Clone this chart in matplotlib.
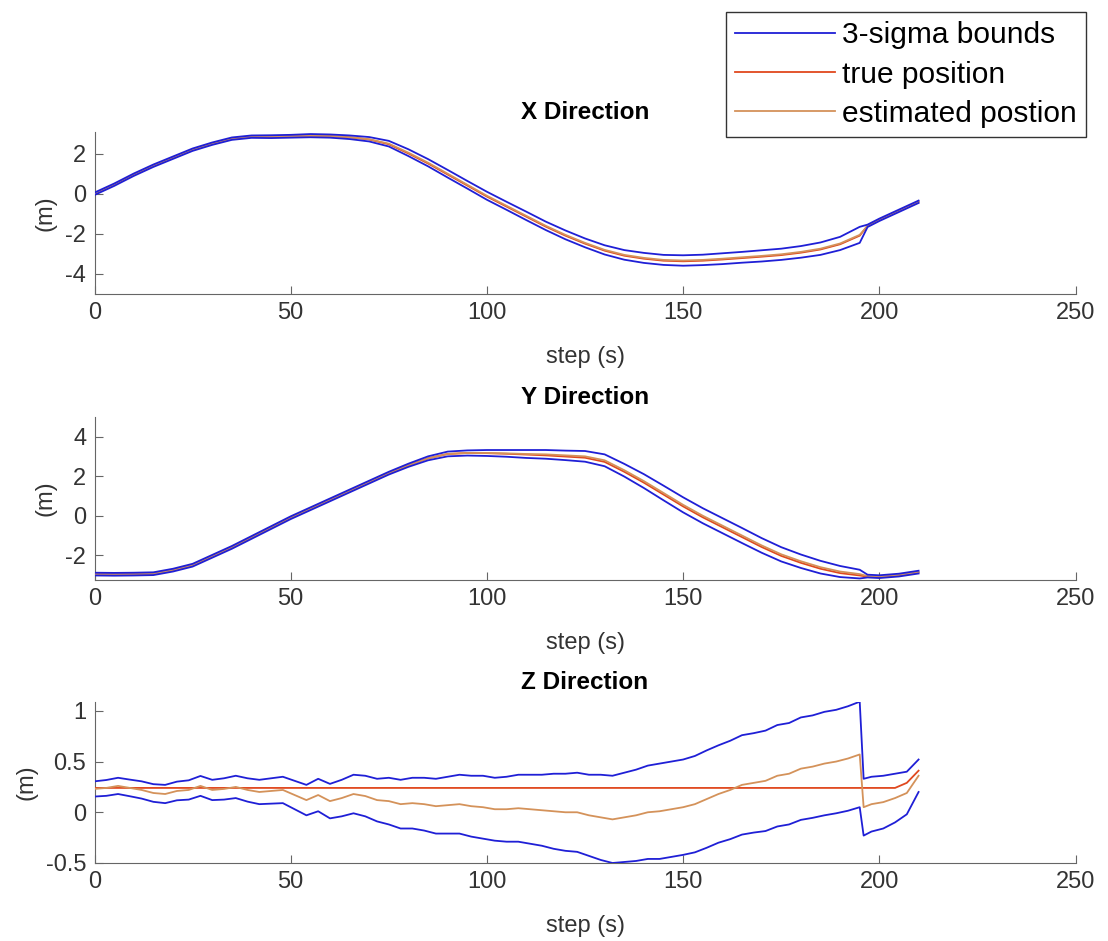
import numpy as np
import matplotlib
matplotlib.use('Agg')
import matplotlib.pyplot as plt

plt.rcParams['font.family'] = ['Liberation Sans', 'DejaVu Sans']
plt.rcParams['axes.unicode_minus'] = False

# ============ data ========================================
steps_xy = [0, 5, 10, 15, 20, 25, 30, 35, 40, 45, 50, 55, 60, 65, 70, 75, 80, 85, 90, 95,
            100, 105, 110, 115, 120, 125, 130, 135, 140, 145, 150, 155, 160, 165, 170, 175,
            180, 185, 190, 195, 197, 200, 205, 210]

est_x = [0.00, 0.45, 0.95, 1.40, 1.80, 2.20, 2.50, 2.75, 2.85, 2.85, 2.87, 2.90, 2.88, 2.82,
         2.72, 2.50, 2.05, 1.55, 1.00, 0.45, -0.10, -0.60, -1.10, -1.60, -2.05, -2.45, -2.80,
         -3.05, -3.20, -3.30, -3.33, -3.30, -3.24, -3.17, -3.10, -3.02, -2.90, -2.74, -2.48,
         -2.05, -1.60, -1.30, -0.85, -0.40]
true_x = [0.00, 0.45, 0.95, 1.40, 1.80, 2.20, 2.50, 2.75, 2.85, 2.85, 2.87, 2.90, 2.88, 2.82,
          2.71, 2.47, 2.01, 1.51, 0.96, 0.41, -0.14, -0.64, -1.14, -1.64, -2.09, -2.49, -2.84,
          -3.09, -3.24, -3.34, -3.37, -3.34, -3.28, -3.21, -3.14, -3.06, -2.94, -2.78, -2.52,
          -2.09, -1.60, -1.30, -0.85, -0.40]
sig_x = [0.06, 0.06, 0.06, 0.06, 0.06, 0.06, 0.06, 0.06, 0.06, 0.07, 0.07, 0.08, 0.08, 0.09,
         0.11, 0.14, 0.17, 0.18, 0.19, 0.19, 0.20, 0.20, 0.21, 0.21, 0.22, 0.22, 0.23, 0.24,
         0.25, 0.25, 0.26, 0.26, 0.27, 0.27, 0.28, 0.28, 0.29, 0.31, 0.33, 0.40, 0.06, 0.06,
         0.06, 0.06]

est_y = [-2.95, -2.96, -2.95, -2.93, -2.75, -2.50, -2.05, -1.60, -1.10, -0.60, -0.10, 0.35,
         0.80, 1.25, 1.70, 2.15, 2.55, 2.90, 3.12, 3.17, 3.17, 3.15, 3.12, 3.10, 3.05, 3.00,
         2.80, 2.30, 1.75, 1.15, 0.55, 0.00, -0.50, -1.00, -1.50, -1.95, -2.30, -2.60, -2.82,
         -2.95, -3.05, -3.08, -3.00, -2.85]
true_y = [-2.95, -2.96, -2.95, -2.93, -2.75, -2.50, -2.05, -1.60, -1.10, -0.60, -0.10, 0.35,
          0.80, 1.25, 1.70, 2.15, 2.55, 2.90, 3.12, 3.17, 3.16, 3.13, 3.09, 3.05, 2.99, 2.93,
          2.72, 2.22, 1.67, 1.07, 0.47, -0.08, -0.58, -1.08, -1.58, -2.03, -2.38, -2.68, -2.90,
          -3.02, -3.08, -3.10, -3.02, -2.87]
sig_y = [0.07, 0.07, 0.07, 0.07, 0.07, 0.07, 0.07, 0.07, 0.07, 0.07, 0.07, 0.07, 0.07, 0.07,
         0.07, 0.07, 0.08, 0.10, 0.12, 0.13, 0.15, 0.17, 0.20, 0.22, 0.24, 0.27, 0.30, 0.32,
         0.35, 0.37, 0.38, 0.38, 0.38, 0.38, 0.37, 0.36, 0.34, 0.32, 0.28, 0.22, 0.07, 0.07,
         0.07, 0.07]

steps_z = list(range(0, 196, 3)) + [196, 198, 201, 204, 207, 210]

est_z = [0.23, 0.24, 0.26, 0.24, 0.22, 0.19, 0.18, 0.21, 0.22, 0.26, 0.22, 0.23, 0.25, 0.22,
         0.20, 0.21, 0.22, 0.17, 0.12, 0.17, 0.11, 0.14, 0.18, 0.16, 0.12, 0.11, 0.08, 0.09,
         0.08, 0.06, 0.07, 0.08, 0.06, 0.05, 0.03, 0.03, 0.04, 0.03, 0.02, 0.01, 0.00, 0.00,
         -0.03, -0.05, -0.07, -0.05, -0.03, 0.00, 0.01, 0.03, 0.05, 0.08, 0.13, 0.18, 0.22,
         0.27, 0.29, 0.31, 0.36, 0.38, 0.43, 0.45, 0.48, 0.50, 0.53, 0.57,
         0.05, 0.08, 0.10, 0.14, 0.19, 0.36]
true_z = [0.24] * 66 + [0.24, 0.24, 0.24, 0.24, 0.29, 0.41]
sig_z = [0.075, 0.078, 0.080, 0.082, 0.085, 0.087, 0.090, 0.092, 0.095, 0.098, 0.100, 0.105,
         0.110, 0.115, 0.120, 0.125, 0.130, 0.140, 0.150, 0.160, 0.170, 0.180, 0.190, 0.200,
         0.210, 0.230, 0.240, 0.250, 0.260, 0.270, 0.280, 0.290, 0.300, 0.310, 0.310, 0.320,
         0.330, 0.340, 0.350, 0.370, 0.380, 0.390, 0.400, 0.420, 0.430, 0.440, 0.450, 0.460,
         0.470, 0.470, 0.470, 0.475, 0.480, 0.480, 0.485, 0.490, 0.490, 0.495, 0.500, 0.500,
         0.505, 0.505, 0.510, 0.510, 0.515, 0.520,
         0.280, 0.270, 0.260, 0.240, 0.210, 0.160]

titles = ['X Direction', 'Y Direction', 'Z Direction']
ylims = [(-5, 3.1), (-3.25, 5), (-0.5, 1.09)]
yticks = [[-4, -2, 0, 2], [-2, 0, 2, 4], [-0.5, 0, 0.5, 1]]
ytick_labels = [['-4', '-2', '0', '2'], ['-2', '0', '2', '4'], ['-0.5', '0', '0.5', '1']]
xticks = [0, 50, 100, 150, 200, 250]
# ==========================================================

BLUE = '#1f1fd6'
RED = '#e0481e'
YEL = '#d4925a'
GRAY = '#333333'

fig = plt.figure(figsize=(11.08, 9.41), dpi=100)
positions = [[0.0853, 0.6876, 0.8854, 0.1725],
             [0.0853, 0.3836, 0.8854, 0.1735],
             [0.0853, 0.0829, 0.8854, 0.1714]]

series = [(steps_xy, est_x, true_x, sig_x),
          (steps_xy, est_y, true_y, sig_y),
          (steps_z, est_z, true_z, sig_z)]

for i, (steps, est, true, sig) in enumerate(series):
    ax = fig.add_axes(positions[i])
    est = np.array(est)
    sig = np.array(sig)
    l1, = ax.plot(steps, est + sig, color=BLUE, lw=1.3, zorder=4, label='3-sigma bounds')
    ax.plot(steps, est - sig, color=BLUE, lw=1.3, zorder=4)
    l2, = ax.plot(steps, true, color=RED, lw=1.3, zorder=3, label='true position')
    l3, = ax.plot(steps, est, color=YEL, lw=1.3, zorder=3, label='estimated postion')

    ax.set_xlim(0, 250)
    ax.set_ylim(*ylims[i])
    ax.set_xticks(xticks)
    ax.set_xticklabels([str(t) for t in xticks])
    ax.set_yticks(yticks[i])
    ax.set_yticklabels(ytick_labels[i])
    ax.spines['top'].set_visible(False)
    ax.spines['right'].set_visible(False)
    for s in ['left', 'bottom']:
        ax.spines[s].set_color('#666666')
        ax.spines[s].set_linewidth(0.8)
    ax.tick_params(direction='in', length=6, width=0.8, color='#666666',
                   labelcolor=GRAY, labelsize=17, pad=6)
    ax.set_xlabel('step (s)', fontsize=17, color=GRAY, labelpad=15.5)
    ax.set_ylabel('(m)', fontsize=17, color=GRAY, labelpad=6)
    ax.set_title(titles[i], fontsize=17.5, fontweight='bold', color='black', pad=9)

handles = [l1, l2, l3]
leg = fig.legend(handles, [h.get_label() for h in handles],
                 loc='upper right', bbox_to_anchor=(0.980, 0.987),
                 fontsize=21.5, frameon=True, fancybox=False, edgecolor='black',
                 handlelength=3.35, handletextpad=0.23, labelspacing=0.38,
                 borderpad=0.3, borderaxespad=0)
leg.get_frame().set_linewidth(1.0)

fig.savefig('out.png', dpi=100)
